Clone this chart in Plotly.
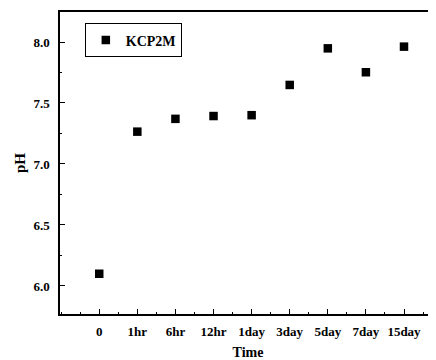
import plotly.graph_objects as go

categories = ["0", "1hr", "6hr", "12hr", "1day", "3day", "5day", "7day", "15day"]
ph_values = [6.10, 7.265, 7.37, 7.393, 7.40, 7.648, 7.948, 7.752, 7.962]
series_name = "KCP2M"

x_idx = list(range(len(categories)))
font_family = "Liberation Serif, Times New Roman, serif"

fig = go.Figure()
fig.add_trace(go.Scatter(
    x=x_idx, y=ph_values, mode="markers", name=series_name,
    marker=dict(symbol="square", size=8.5, color="black"),
))

# page body has an 8px margin: figure is sized/placed to compensate
fig.update_layout(
    width=428, height=352,
    margin=dict(l=52, r=0, t=4, b=46, autoexpand=False),
    paper_bgcolor="white", plot_bgcolor="white",
    font=dict(family=font_family, size=13, color="black"),
    showlegend=True,
    legend=dict(
        x=0.066, y=0.962, xanchor="left", yanchor="top",
        bordercolor="black", borderwidth=1, bgcolor="white",
        font=dict(family=font_family, size=14, color="black", weight="bold"),
        itemwidth=30, tracegroupgap=0,
    ),
)

fig.update_xaxes(
    range=[-1.03, 8.84], automargin=False,
    tickvals=x_idx, ticktext=[f"<b>{c}</b>" for c in categories],
    ticks="inside", ticklen=5, tickwidth=1, tickcolor="black",
    minor=dict(dtick=0.5, tick0=0.5, ticks="inside", ticklen=2, tickcolor="black"),
    showline=True, linecolor="black", linewidth=1.5, mirror=True,
    showgrid=False, zeroline=False,
    tickfont=dict(family=font_family, size=13, color="black"),
    ticklabelstandoff=5,
    title=dict(text="<b>Time</b>", font=dict(family=font_family, size=14, color="black"), standoff=9),
)
fig.update_yaxes(
    range=[5.77, 8.246], automargin=False,
    tickvals=[6.0, 6.5, 7.0, 7.5, 8.0],
    ticktext=["<b>6.0</b>", "<b>6.5</b>", "<b>7.0</b>", "<b>7.5</b>", "<b>8.0</b>"],
    ticks="inside", ticklen=5, tickwidth=1, tickcolor="black",
    minor=dict(tickvals=[5.75, 6.25, 6.75, 7.25, 7.75, 8.25], ticks="inside", ticklen=2, tickcolor="black"),
    showline=True, linecolor="black", linewidth=1.5,
    showgrid=False, zeroline=False,
    tickfont=dict(family=font_family, size=13, color="black"),
    ticklabelstandoff=6,
    title=dict(text="<b>pH</b>", font=dict(family=font_family, size=15, color="black"), standoff=4),
)

fig.write_html("out.html")
